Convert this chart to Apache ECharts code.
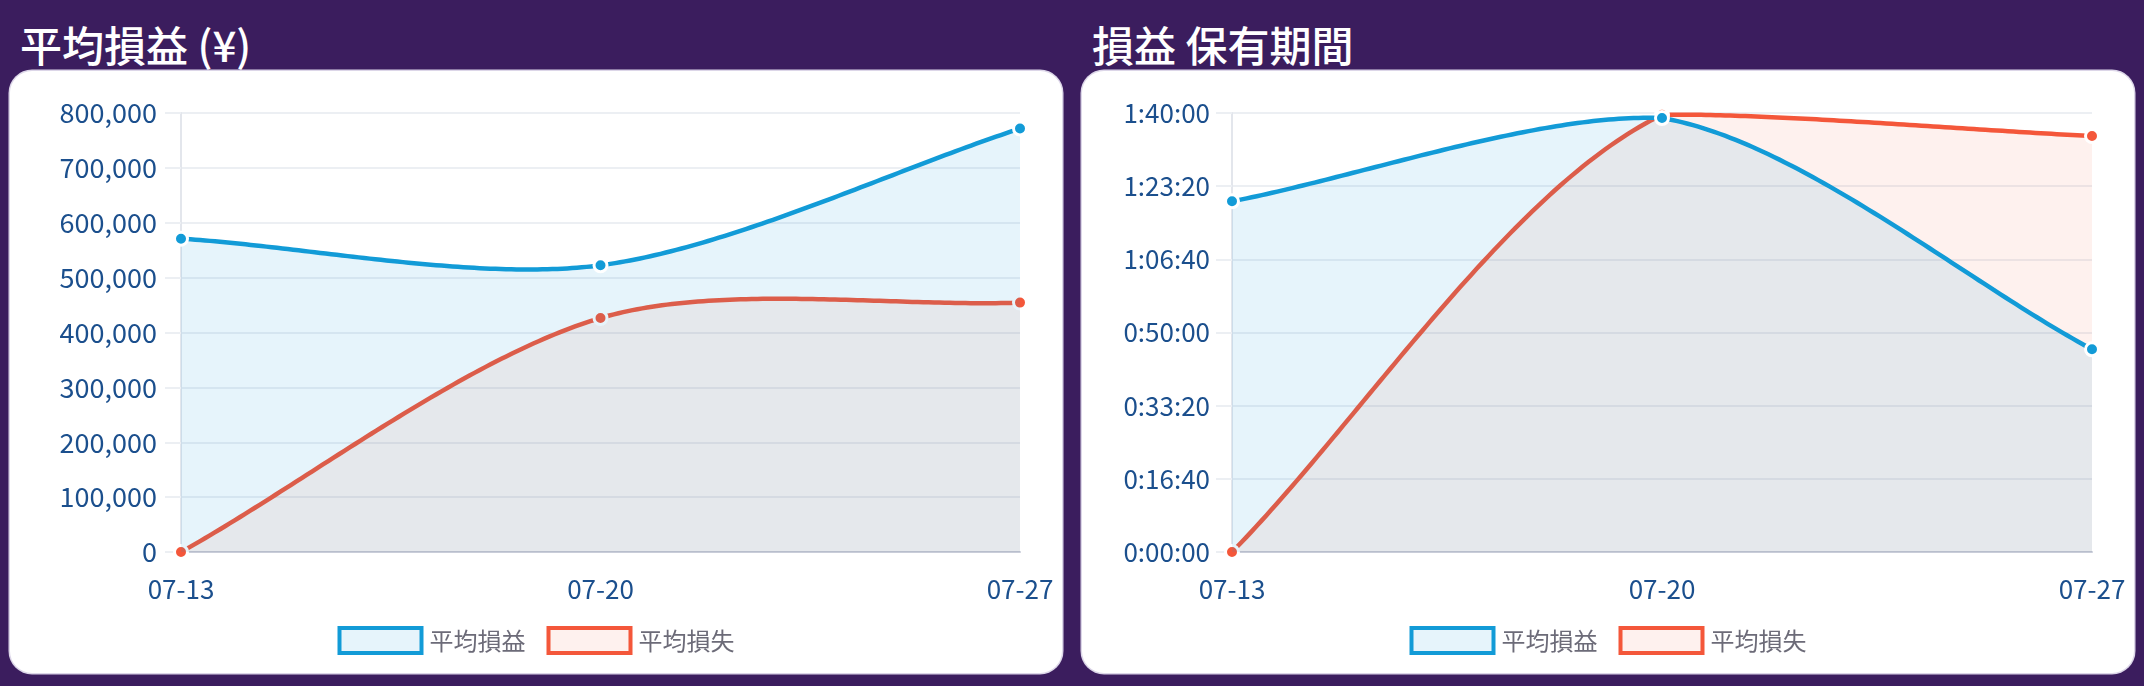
<!DOCTYPE html>
<html>
<head>
<meta charset="utf-8">
<script src="https://cdn.jsdelivr.net/npm/echarts@6/dist/echarts.min.js"></script>
<style>
  html, body { margin: 0; padding: 0; }
  body { width: 2144px; height: 686px; background: #3b1d5e; position: relative; overflow: hidden;
         font-family: "Noto Sans CJK JP", "Noto Sans", sans-serif; }
  .title { position: absolute; top: 23px; color: #ffffff; font-size: 42px; line-height: 42px; font-weight: 500; white-space: nowrap; }
  .card { position: absolute; top: 71px; width: 1052px; height: 602px; background: #ffffff; border-radius: 22px;
          box-shadow: 0 0 0 1.5px #dcd6e8; overflow: hidden; }
</style>
</head>
<body>
<div class="title" style="left:20px">平均損益 (¥)</div>
<div class="title" style="left:1092px">損益 保有期間</div>
<div class="card" id="c1" style="left:10px"></div>
<div class="card" id="c2" style="left:1082px"></div>
<script>
// ---- data ----
const categories = ['07-13', '07-20', '07-27'];
const seriesNames = ['平均損益', '平均損失'];
// 平均損益 (¥)
const avgProfitYen = [571000, 522500, 771600];
const avgLossYen = [0, 426400, 454500];
// 損益 保有期間 (seconds)
const holdProfitSec = [4793, 5931, 2770];
const holdLossSec = [0, 5975, 5685];
// axis ranges
const yenAxis = { min: 0, max: 800000, interval: 100000 };
const secAxis = { min: 0, max: 6000, interval: 1000 };

// ---- style ----
const BLUE = '#129bd7';
const RED = '#f4573a';
const BLUE_FILL = 'rgba(18,155,215,0.105)';
const RED_FILL = 'rgba(244,87,58,0.085)';
const LABEL = '#1b4f8d';
const FONT = '"Noto Sans CJK JP", "Noto Sans", sans-serif';
const TENSION = 0.3;

function fmtYen(v) { return v.toLocaleString('en-US'); }
function fmtSec(v) {
  const h = Math.floor(v / 3600), m = Math.floor((v % 3600) / 60), s = Math.round(v % 60);
  return h + ':' + String(m).padStart(2, '0') + ':' + String(s).padStart(2, '0');
}

// cubic spline with tension, drawn through pixel coords obtained from the axes
function splinePath(pts, rect) {
  const n = pts.length, cps = [];
  const clampY = y => Math.max(rect.y, Math.min(rect.y + rect.height, y));
  const clampX = x => Math.max(rect.x, Math.min(rect.x + rect.width, x));
  for (let i = 0; i < n; i++) {
    const prev = pts[Math.max(i - 1, 0)], cur = pts[i], next = pts[Math.min(i + 1, n - 1)];
    const d01 = Math.hypot(cur[0] - prev[0], cur[1] - prev[1]);
    const d12 = Math.hypot(next[0] - cur[0], next[1] - cur[1]);
    let s01 = d01 / (d01 + d12), s12 = d12 / (d01 + d12);
    if (isNaN(s01)) s01 = 0; if (isNaN(s12)) s12 = 0;
    const fa = TENSION * s01, fb = TENSION * s12;
    cps.push({
      p: [clampX(cur[0] - fa * (next[0] - prev[0])), clampY(cur[1] - fa * (next[1] - prev[1]))],
      n: [clampX(cur[0] + fb * (next[0] - prev[0])), clampY(cur[1] + fb * (next[1] - prev[1]))]
    });
  }
  const out = [pts[0].slice()];
  const STEPS = 80;
  for (let i = 0; i < n - 1; i++) {
    const a = pts[i], b = cps[i].n, c = cps[i + 1].p, d = pts[i + 1];
    for (let k = 1; k <= STEPS; k++) {
      const t = k / STEPS, u = 1 - t;
      out.push([
        u * u * u * a[0] + 3 * u * u * t * b[0] + 3 * u * t * t * c[0] + t * t * t * d[0],
        u * u * u * a[1] + 3 * u * u * t * b[1] + 3 * u * t * t * c[1] + t * t * t * d[1]
      ]);
    }
  }
  return out;
}

function curveSeries(name, values, axisMin, color, fill, z) {
  return {
    name: name, type: 'custom', z: z, silent: true,
    data: values.map((v, i) => [i, v]),
    encode: { x: 0, y: 1 },
    renderItem: function (params, api) {
      if (params.dataIndex !== 0) return null;
      const pts = values.map((v, i) => api.coord([i, v]));
      const rect = params.coordSys;
      const curve = splinePath(pts, rect);
      const baseY = api.coord([0, axisMin])[1];
      const poly = curve.concat([[curve[curve.length - 1][0], baseY], [curve[0][0], baseY]]);
      return {
        type: 'group',
        children: [
          { type: 'polygon', shape: { points: poly }, style: { fill: fill } },
          { type: 'polyline', shape: { points: curve },
            style: { stroke: color, lineWidth: 4.5, fill: null, lineJoin: 'round', lineCap: 'round' } }
        ]
      };
    }
  };
}

function markerSeries(name, values, color, z) {
  return {
    name: name, type: 'line', data: values, z: z, silent: true,
    symbol: 'circle', symbolSize: 13, showSymbol: true,
    lineStyle: { width: 0, opacity: 0 },
    itemStyle: { color: color, borderColor: '#ffffff', borderWidth: 3 },
    emphasis: { disabled: true }
  };
}

function makeOption(gridLeft, axisCfg, formatter, yFontSize, yMargin, profit, loss) {
  return {
    animation: false,
    textStyle: { fontFamily: FONT },
    grid: { left: gridLeft, right: 42, top: 42, bottom: 121, outerBoundsMode: 'none', containLabel: false },
    legend: {
      bottom: 13, left: 'center', icon: 'rect', itemWidth: 82, itemHeight: 25, itemGap: 21,
      selectedMode: false,
      textStyle: { color: '#6c6b78', fontSize: 24, fontFamily: FONT, padding: [0, 0, 0, 3] },
      data: [
        { name: seriesNames[0], icon: 'rect', itemStyle: { color: BLUE_FILL, borderColor: BLUE, borderWidth: 4 } },
        { name: seriesNames[1], icon: 'rect', itemStyle: { color: RED_FILL, borderColor: RED, borderWidth: 4 } }
      ]
    },
    xAxis: {
      type: 'category', data: categories, boundaryGap: false,
      axisLine: { show: true, lineStyle: { color: '#c9cdd9', width: 2 } },
      axisTick: { show: false },
      axisLabel: { color: LABEL, fontSize: 26, margin: 24, fontFamily: FONT },
      splitLine: { show: false }
    },
    yAxis: {
      type: 'value', min: axisCfg.min, max: axisCfg.max, interval: axisCfg.interval,
      axisLine: { show: true, lineStyle: { color: '#e3e6ec', width: 2 } },
      axisTick: { show: true, length: 16, lineStyle: { color: '#eceff3', width: 2 } },
      axisLabel: { color: LABEL, fontSize: yFontSize, margin: yMargin, fontFamily: FONT, formatter: formatter },
      splitLine: { show: true, lineStyle: { color: '#eceff3', width: 2 } }
    },
    series: [
      curveSeries(seriesNames[1], loss, axisCfg.min, RED, RED_FILL, 2),
      markerSeries(seriesNames[1], loss, RED, 3),
      curveSeries(seriesNames[0], profit, axisCfg.min, BLUE, BLUE_FILL, 4),
      markerSeries(seriesNames[0], profit, BLUE, 5)
    ]
  };
}

const c1 = echarts.init(document.getElementById('c1'), null, { renderer: 'canvas' });
c1.setOption(makeOption(171, yenAxis, fmtYen, 27, 24, avgProfitYen, avgLossYen));
const c2 = echarts.init(document.getElementById('c2'), null, { renderer: 'canvas' });
c2.setOption(makeOption(150, secAxis, fmtSec, 26, 22, holdProfitSec, holdLossSec));
</script>
</body>
</html>
